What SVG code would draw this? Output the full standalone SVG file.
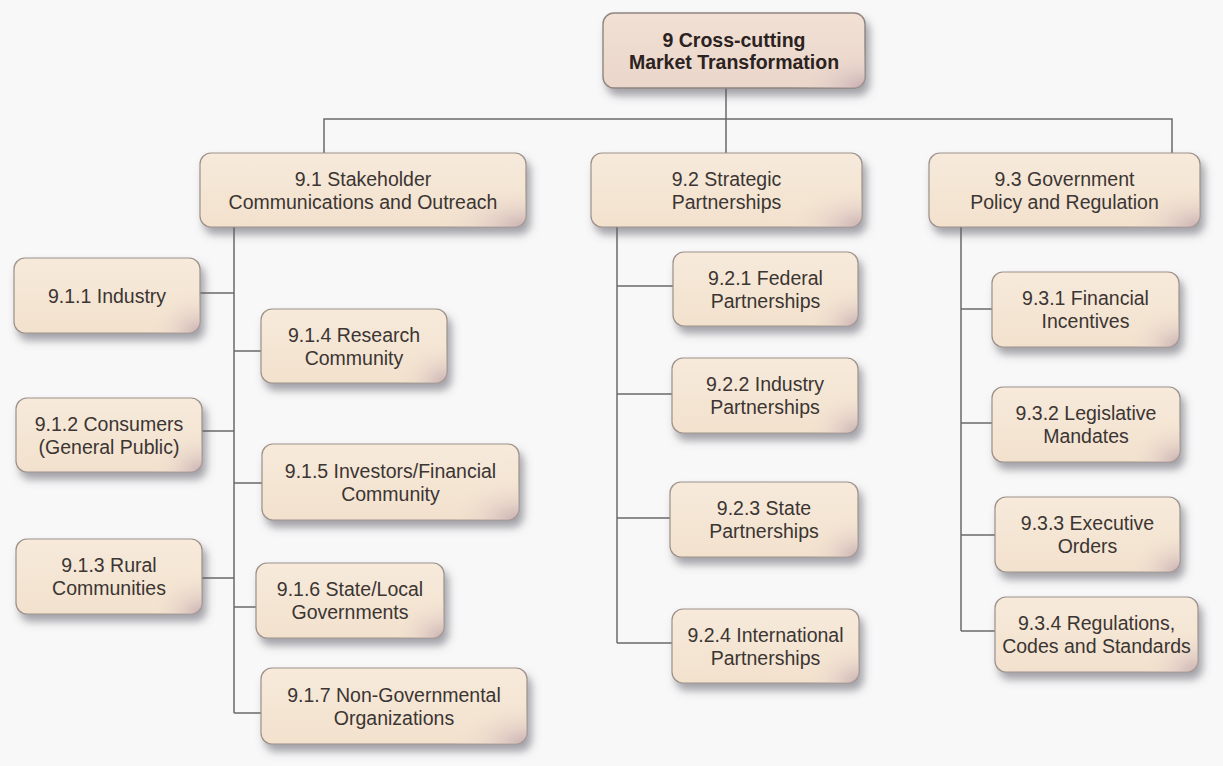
<svg xmlns="http://www.w3.org/2000/svg" width="1223" height="766" viewBox="0 0 1223 766">
  <style>
    .box { fill: url(#boxFill); stroke: #9c918a; stroke-width: 1.2; filter: url(#shadow); }
    .root { fill: url(#rootFill); stroke: #8f8580; stroke-width: 1.4; filter: url(#shadow); }
    .sheen { fill: url(#cornerShade); }
    .lbl { font-family: "Liberation Sans", Arial, sans-serif; font-size: 19.5px; fill: #3b3533; text-anchor: middle; }
    .lbl-b { font-family: "Liberation Sans", Arial, sans-serif; font-size: 19.5px; font-weight: bold; fill: #2b2221; text-anchor: middle; }
    .wire { fill: none; stroke: #6a6a6a; stroke-width: 1.5; }
  </style>
  <defs>
    <linearGradient id="boxFill" x1="0" y1="0" x2="0" y2="1">
      <stop offset="0" stop-color="#f7eadb"/>
      <stop offset="1" stop-color="#f2e1cd"/>
    </linearGradient>
    <linearGradient id="rootFill" x1="0" y1="0" x2="0" y2="1">
      <stop offset="0" stop-color="#f2e0d4"/>
      <stop offset="1" stop-color="#ead6ca"/>
    </linearGradient>
    <radialGradient id="cornerShade" cx="1" cy="1" r="0.55" gradientTransform="translate(1 1) scale(0.5 1) translate(-1 -1)">
      <stop offset="0" stop-color="#b99ea6" stop-opacity="0.75"/>
      <stop offset="0.5" stop-color="#d8c2c2" stop-opacity="0.35"/>
      <stop offset="1" stop-color="#f2e1cd" stop-opacity="0"/>
    </radialGradient>
    <filter id="shadow" x="-10%" y="-20%" width="125%" height="160%">
      <feGaussianBlur in="SourceAlpha" stdDeviation="4"/>
      <feOffset dx="4" dy="7" result="blur"/>
      <feFlood flood-color="#5a5a66" flood-opacity="0.55"/>
      <feComposite in2="blur" operator="in" result="sh"/>
      <feMerge>
        <feMergeNode in="sh"/>
        <feMergeNode in="SourceGraphic"/>
      </feMerge>
    </filter>
  </defs>

  <rect x="0" y="0" width="1223" height="766" fill="#f8f8f8"/>

  <!-- connectors -->
  <g id="connectors" class="wire">
    <path d="M726 88 V153"/>
    <path d="M324 153 V119 H1172 V153"/>
    <!-- 9.1 branch -->
    <path d="M234 227 V713"/>
    <path d="M200 293 H234"/>
    <path d="M202 431 H234"/>
    <path d="M202 578 H234"/>
    <path d="M234 351 H261"/>
    <path d="M234 483 H262"/>
    <path d="M234 607 H256"/>
    <path d="M234 713 H261"/>
    <!-- 9.2 branch -->
    <path d="M617 227 V643"/>
    <path d="M617 286 H673"/>
    <path d="M617 394 H672"/>
    <path d="M617 518 H670"/>
    <path d="M617 643 H672"/>
    <!-- 9.3 branch -->
    <path d="M961 227 V631"/>
    <path d="M961 309 H992"/>
    <path d="M961 423 H992"/>
    <path d="M961 535 H995"/>
    <path d="M961 631 H995"/>
  </g>

  <!-- root -->
  <g id="n9">
    <rect class="root" x="603" y="13" width="262" height="75" rx="11"/>
    <rect class="sheen" x="603" y="13" width="262" height="75" rx="11"/>
    <text class="lbl-b" x="734" y="47">9 Cross-cutting<tspan x="734" dy="22">Market Transformation</tspan></text>
  </g>

  <!-- level 1 -->
  <g id="n9-1">
    <rect class="box" x="200" y="153" width="326" height="74" rx="11"/>
    <rect class="sheen" x="200" y="153" width="326" height="74" rx="11"/>
    <text class="lbl" x="363" y="185.5">9.1 Stakeholder<tspan x="363" dy="23">Communications and Outreach</tspan></text>
  </g>
  <g id="n9-2">
    <rect class="box" x="591" y="153" width="271" height="74" rx="11"/>
    <rect class="sheen" x="591" y="153" width="271" height="74" rx="11"/>
    <text class="lbl" x="726.5" y="185.5">9.2 Strategic<tspan x="726.5" dy="23">Partnerships</tspan></text>
  </g>
  <g id="n9-3">
    <rect class="box" x="929" y="153" width="271" height="74" rx="11"/>
    <rect class="sheen" x="929" y="153" width="271" height="74" rx="11"/>
    <text class="lbl" x="1064.5" y="185.5">9.3 Government<tspan x="1064.5" dy="23">Policy and Regulation</tspan></text>
  </g>

  <!-- 9.1 children -->
  <g id="n9-1-1">
    <rect class="box" x="14" y="258" width="186" height="75" rx="11"/>
    <rect class="sheen" x="14" y="258" width="186" height="75" rx="11"/>
    <text class="lbl" x="107" y="302.5">9.1.1 Industry</text>
  </g>
  <g id="n9-1-2">
    <rect class="box" x="16" y="398" width="186" height="74" rx="11"/>
    <rect class="sheen" x="16" y="398" width="186" height="74" rx="11"/>
    <text class="lbl" x="109" y="430.5">9.1.2 Consumers<tspan x="109" dy="23">(General Public)</tspan></text>
  </g>
  <g id="n9-1-3">
    <rect class="box" x="16" y="539" width="186" height="75" rx="11"/>
    <rect class="sheen" x="16" y="539" width="186" height="75" rx="11"/>
    <text class="lbl" x="109" y="572">9.1.3 Rural<tspan x="109" dy="23">Communities</tspan></text>
  </g>
  <g id="n9-1-4">
    <rect class="box" x="261" y="309" width="186" height="74" rx="11"/>
    <rect class="sheen" x="261" y="309" width="186" height="74" rx="11"/>
    <text class="lbl" x="354" y="341.5">9.1.4 Research<tspan x="354" dy="23">Community</tspan></text>
  </g>
  <g id="n9-1-5">
    <rect class="box" x="262" y="444" width="257" height="76" rx="11"/>
    <rect class="sheen" x="262" y="444" width="257" height="76" rx="11"/>
    <text class="lbl" x="390.5" y="477.5">9.1.5 Investors/Financial<tspan x="390.5" dy="23">Community</tspan></text>
  </g>
  <g id="n9-1-6">
    <rect class="box" x="256" y="563" width="188" height="75" rx="11"/>
    <rect class="sheen" x="256" y="563" width="188" height="75" rx="11"/>
    <text class="lbl" x="350" y="596">9.1.6 State/Local<tspan x="350" dy="23">Governments</tspan></text>
  </g>
  <g id="n9-1-7">
    <rect class="box" x="261" y="668" width="266" height="76" rx="11"/>
    <rect class="sheen" x="261" y="668" width="266" height="76" rx="11"/>
    <text class="lbl" x="394" y="701.5">9.1.7 Non-Governmental<tspan x="394" dy="23">Organizations</tspan></text>
  </g>

  <!-- 9.2 children -->
  <g id="n9-2-1">
    <rect class="box" x="673" y="252" width="185" height="74" rx="11"/>
    <rect class="sheen" x="673" y="252" width="185" height="74" rx="11"/>
    <text class="lbl" x="765.5" y="284.5">9.2.1 Federal<tspan x="765.5" dy="23">Partnerships</tspan></text>
  </g>
  <g id="n9-2-2">
    <rect class="box" x="672" y="358" width="186" height="75" rx="11"/>
    <rect class="sheen" x="672" y="358" width="186" height="75" rx="11"/>
    <text class="lbl" x="765" y="391">9.2.2 Industry<tspan x="765" dy="23">Partnerships</tspan></text>
  </g>
  <g id="n9-2-3">
    <rect class="box" x="670" y="482" width="188" height="75" rx="11"/>
    <rect class="sheen" x="670" y="482" width="188" height="75" rx="11"/>
    <text class="lbl" x="764" y="515">9.2.3 State<tspan x="764" dy="23">Partnerships</tspan></text>
  </g>
  <g id="n9-2-4">
    <rect class="box" x="672" y="609" width="187" height="74" rx="11"/>
    <rect class="sheen" x="672" y="609" width="187" height="74" rx="11"/>
    <text class="lbl" x="765.5" y="641.5">9.2.4 International<tspan x="765.5" dy="23">Partnerships</tspan></text>
  </g>

  <!-- 9.3 children -->
  <g id="n9-3-1">
    <rect class="box" x="992" y="272" width="187" height="75" rx="11"/>
    <rect class="sheen" x="992" y="272" width="187" height="75" rx="11"/>
    <text class="lbl" x="1085.5" y="305">9.3.1 Financial<tspan x="1085.5" dy="23">Incentives</tspan></text>
  </g>
  <g id="n9-3-2">
    <rect class="box" x="992" y="387" width="188" height="75" rx="11"/>
    <rect class="sheen" x="992" y="387" width="188" height="75" rx="11"/>
    <text class="lbl" x="1086" y="420">9.3.2 Legislative<tspan x="1086" dy="23">Mandates</tspan></text>
  </g>
  <g id="n9-3-3">
    <rect class="box" x="995" y="497" width="185" height="75" rx="11"/>
    <rect class="sheen" x="995" y="497" width="185" height="75" rx="11"/>
    <text class="lbl" x="1087.5" y="530">9.3.3 Executive<tspan x="1087.5" dy="23">Orders</tspan></text>
  </g>
  <g id="n9-3-4">
    <rect class="box" x="995" y="597" width="203" height="75" rx="11"/>
    <rect class="sheen" x="995" y="597" width="203" height="75" rx="11"/>
    <text class="lbl" x="1096.5" y="630">9.3.4 Regulations,<tspan x="1096.5" dy="23">Codes and Standards</tspan></text>
  </g>
</svg>
